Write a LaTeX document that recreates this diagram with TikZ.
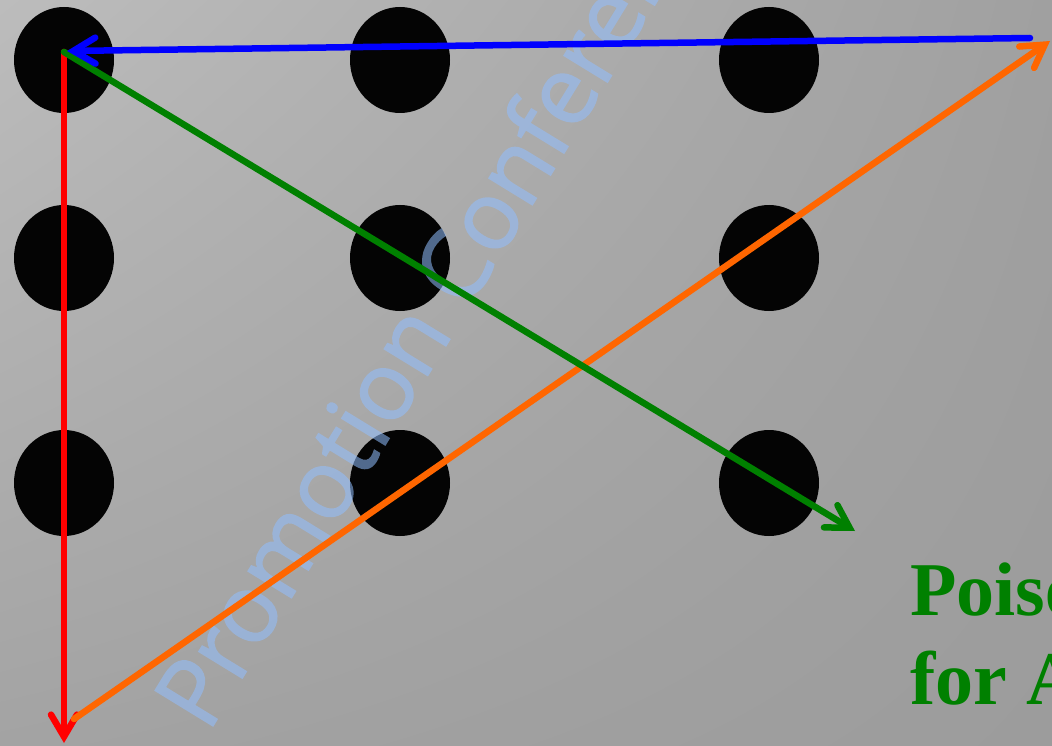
\documentclass[tikz,border=0pt]{standalone}
\usepackage{fontspec}
\setmainfont{Liberation Serif}
\newfontfamily\wmfont[FakeBold=1.5]{Open Sans}
\usetikzlibrary{arrows.meta,shapes.geometric,shadings}
\definecolor{bgA}{RGB}{188,188,188}
\definecolor{bgB}{RGB}{160,160,160}
\definecolor{bgC}{RGB}{163,163,163}
\definecolor{bgD}{RGB}{156,156,156}
\definecolor{dotc}{RGB}{4,4,4}
\definecolor{wm}{RGB}{145,190,255}
\definecolor{orng}{RGB}{255,102,0}
\definecolor{grn}{RGB}{0,128,0}
\definecolor{blu}{RGB}{0,0,255}
\definecolor{rd}{RGB}{255,0,0}
\tikzset{
  dotnode/.style={ellipse, fill=dotc, minimum width=100pt, minimum height=106pt, inner sep=0pt},
  conn/.style={line width=6.5pt, line cap=round, -{Straight Barb[length=22pt, width=26pt, line cap=round]}},
  label/.style={font=\bfseries\fontsize{76}{89}\selectfont, text=grn, anchor=base west, inner sep=0pt},
  wmark/.style={font=\wmfont\fontsize{95}{95}\selectfont, text=wm, anchor=base west, inner sep=0pt, rotate=58.5}
}
\begin{document}
\begin{tikzpicture}[x=1pt,y=-1pt]
\useasboundingbox (0,0) rectangle (1052,746);
\shade[upper left=bgA, upper right=bgB, lower left=bgC, lower right=bgD] (0,0) rectangle (1052,746);
% dots
\node[dotnode] (d11) at (64,60) {};
\node[dotnode] (d12) at (400,60) {};
\node[dotnode] (d13) at (769,60) {};
\node[dotnode] (d21) at (64,258) {};
\node[dotnode] (d22) at (400,258) {};
\node[dotnode] (d23) at (769,258) {};
\node[dotnode] (d31) at (64,483) {};
\node[dotnode] (d32) at (400,483) {};
\node[dotnode] (d33) at (769,483) {};
% path points
\coordinate (start) at (64,52);
\coordinate (redend) at (64,743);
\coordinate (orstart) at (74,719);
\coordinate (orend) at (1050,41);
\coordinate (blstart) at (1030,38);
\coordinate (blend) at (67,51);
\coordinate (grend) at (855,531);
% watermark
\begin{scope}[transparency group, opacity=0.55]
\node[wmark] (wm) at (208,734) {Promotion Conference};
\end{scope}
% connectors
\draw[conn, draw=rd] (start) -- (redend);
\draw[conn, draw=orng] (orstart) -- (orend);
\draw[conn, draw=grn] (start) -- (grend);
\draw[conn, draw=blu] (blstart) -- (blend);
% text
\node[label] (t1) at (910,615) {Poise};
\node[label] (t2) at (910,704) {for A};
\end{tikzpicture}
\end{document}
